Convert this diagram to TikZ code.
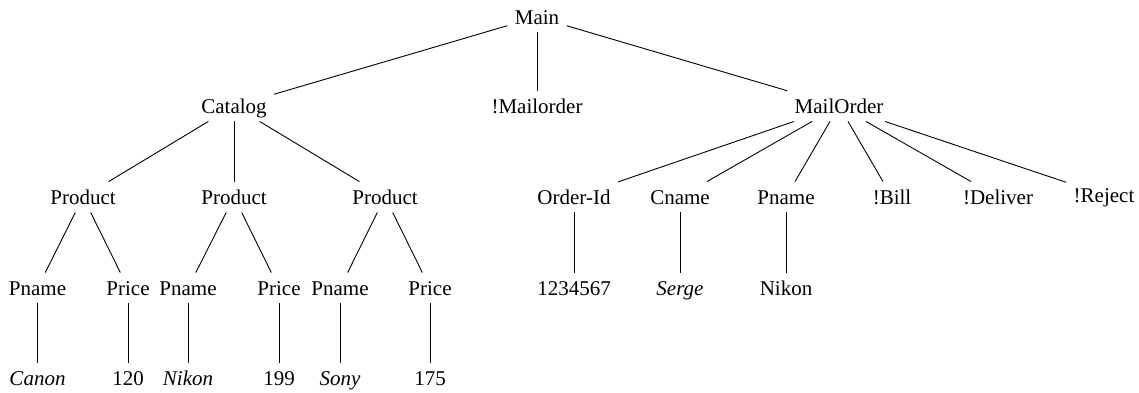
\documentclass[tikz,border=0pt]{standalone}
\usepackage{fontspec}
\setmainfont{Liberation Serif}
\usetikzlibrary{positioning}
\tikzset{
    tnode/.style={inner xsep=7pt, inner ysep=8pt, text height=14pt, text depth=0pt,
                  font=\fontsize{21}{25}\selectfont},
    leaf/.style={tnode, font=\fontsize{21}{25}\selectfont\itshape},
}

\begin{document}
\begin{tikzpicture}[x=1pt, y=-1pt, line width=0.9pt]
    \useasboundingbox (0,0) rectangle (1139,392);

    \node[tnode] (main) at (537,17) {Main};
    \node[tnode] (cat) at (234,106) {Catalog};
    \node[tnode] (nomail) at (537,106) {!Mailorder};
    \node[tnode] (mo) at (839,106) {MailOrder};

    % catalog side
    \node[tnode] (prod1) at (83,197) {Product};
    \node[tnode] (prod2) at (234,197) {Product};
    \node[tnode] (prod3) at (385,197) {Product};

    \node[tnode] (pn1) at (37.5,288) {Pname};
    \node[tnode] (pr1) at (128,288) {Price};
    \node[tnode] (pn2) at (188,288) {Pname};
    \node[tnode] (pr2) at (279,288) {Price};
    \node[tnode] (pn3) at (340,288) {Pname};
    \node[tnode] (pr3) at (430,288) {Price};

    \node[leaf] (canon) at (37.5,378) {Canon};
    \node[tnode] (v1) at (128,378) {120};
    \node[leaf] (nikon) at (188,378) {Nikon};
    \node[tnode] (v2) at (279,378) {199};
    \node[leaf] (sony) at (340,378) {Sony};
    \node[tnode] (v3) at (430,378) {175};

    % mail order side
    \node[tnode] (oid) at (574,197) {Order-Id};
    \node[tnode] (cn) at (680,197) {Cname};
    \node[tnode] (pn) at (786,197) {Pname};
    \node[tnode] (bill) at (892,197) {!Bill};
    \node[tnode] (deliv) at (998,197) {!Deliver};
    \node[tnode] (rej) at (1104,195) {!Reject};

    \node[tnode] (num) at (574,288) {1234567};
    \node[leaf] (serge) at (680,288) {Serge};
    \node[tnode] (nikon2) at (786,288) {Nikon};

    \draw (main) edge (cat) edge (nomail) edge (mo);
    \draw (cat) edge (prod1) edge (prod2) edge (prod3);
    \draw (prod1) edge (pn1) edge (pr1);
    \draw (prod2) edge (pn2) edge (pr2);
    \draw (prod3) edge (pn3) edge (pr3);
    \draw (pn1) edge (canon) (pr1) edge (v1);
    \draw (pn2) edge (nikon) (pr2) edge (v2);
    \draw (pn3) edge (sony) (pr3) edge (v3);
    \draw (mo) edge (oid) edge (cn) edge (pn) edge (bill) edge (deliv) edge (rej);
    \draw (oid) edge (num) (cn) edge (serge) (pn) edge (nikon2);
\end{tikzpicture}
\end{document}
